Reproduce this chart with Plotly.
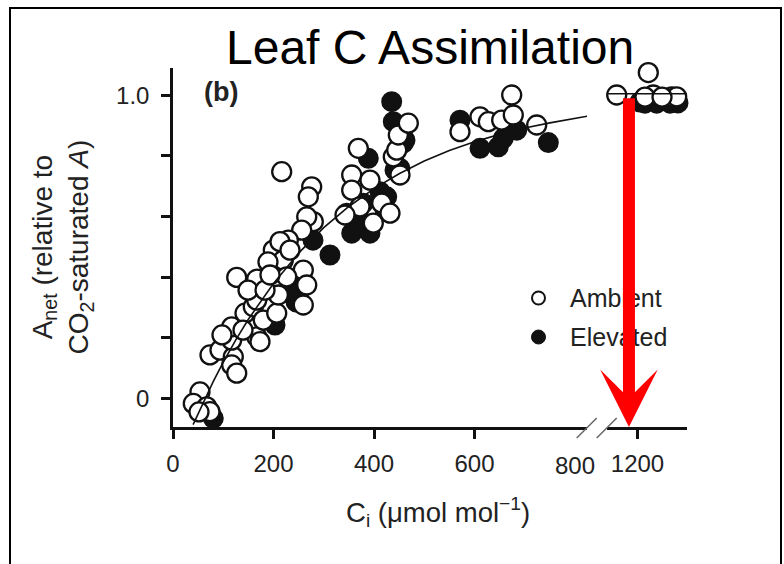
import plotly.graph_objects as go

# ---------------- data ----------------
amb_x = [41.8, 53.7, 40.4, 67.1, 73.6, 51.7, 73.6, 93.5, 120, 116.8, 126.8, 116.8, 116.8, 143.3,
         159.8, 166.6, 166.6, 173.1, 126.8, 166.6, 179.7, 206.4, 209.6, 199.6, 219.5, 259.3,
         266.1, 259.3, 226.3, 216.3, 276, 269.3, 279.2, 266.1, 256.1, 229.5, 212.9, 189,
         368.8, 355.6, 355.6, 372.1, 398.6, 415.3, 431.8, 438.4, 445.2, 448.4, 468.3, 451.7,
         571.1, 610.9, 627.5, 654.1, 674, 677.2, 723.8, 342.3, 392, 149.3, 183.1, 193, 232.8,
         139.3, 97.5,
         1158.6, 1221.5, 1231.4, 1214.9, 1268.1, 1278, 1248.8]
amb_y = [-0.019, 0.021, -0.017, -0.028, -0.044, -0.045, 0.143, 0.159, 0.137, 0.110, 0.083, 0.192,
         0.236, 0.281, 0.302, 0.324, 0.203, 0.187, 0.399, 0.393, 0.258, 0.281, 0.341, 0.489,
         0.456, 0.423, 0.374, 0.308, 0.401, 0.748, 0.698, 0.665, 0.583, 0.599, 0.555, 0.522,
         0.517, 0.45, 0.825, 0.737, 0.687, 0.632, 0.578, 0.644, 0.611, 0.797, 0.819, 0.869,
         0.908, 0.737, 0.880, 0.929, 0.913, 0.918, 1.001, 0.935, 0.902, 0.605, 0.720, 0.357,
         0.357, 0.407, 0.489, 0.225, 0.209,
         1.001, 1.075, 1.001, 0.994, 0.995, 0.995, 0.994]

elev_x = [80.2, 312.4, 239.4, 232.8, 203, 435.2, 438.4, 388.7, 345.7, 355.6, 392, 378.7, 411.9,
          425.3, 441.8, 458.3, 571.1, 610.9, 647.4, 657.3, 684, 746.9, 461.7, 451.7, 278.6,
          252.7, 244.8, 372.1, 421.9,
          1214.9, 1238.2, 1264.7, 1280.6, 1205]
elev_y = [-0.066, 0.473, 0.368, 0.347, 0.242, 0.979, 0.913, 0.792, 0.611, 0.545, 0.545, 0.644,
          0.682, 0.665, 0.753, 0.842, 0.918, 0.825, 0.830, 0.858, 0.885, 0.844, 0.852, 0.759,
          0.522, 0.357, 0.318, 0.589, 0.622,
          0.974, 0.974, 0.974, 0.975, 0.978]

fit_x = [40, 60, 80, 100, 125, 150, 175, 200, 250, 300, 350, 400, 450, 500, 550, 600, 650,
         700, 750, 800, 824]
fit_y = [-0.087, -0.013, 0.055, 0.119, 0.193, 0.261, 0.322, 0.379, 0.479, 0.563, 0.633, 0.692,
         0.741, 0.783, 0.818, 0.847, 0.871, 0.892, 0.909, 0.924, 0.931]
sat_x = [1139, 1299]
sat_y = [1.005, 1.005]

left_ticks = [0, 200, 400, 600]
left_labels = ["0", "200", "400", "600"]
right_ticks = [1200]
right_labels = ["1200"]
y_ticks = [0, 0.2, 0.4, 0.6, 0.8, 1.0]
y_labels = ["0", "", "", "", "", "1.0"]

BREAK = 1000
FONT = "Arial, Liberation Sans, Helvetica, sans-serif"

# ---------------- geometry helpers (pixel layout of the plot box) ----------------
W, H = 784, 564
L, R, T, B = 173, 687, 68, 427
Y0_PX, PX_PER_UNIT = 398.3, 303.0
def px(x):  # pixel x -> paper
    return (x - L) / (R - L)
def py(y):  # pixel y -> paper
    return (B - y) / (B - T)

fig = go.Figure()

def split(xs, ys):
    lx = [a for a in xs if a < BREAK]
    ly = [b for a, b in zip(xs, ys) if a < BREAK]
    rx = [a for a in xs if a >= BREAK]
    ry = [b for a, b in zip(xs, ys) if a >= BREAK]
    return lx, ly, rx, ry

el_lx, el_ly, el_rx, el_ry = split(elev_x, elev_y)
am_lx, am_ly, am_rx, am_ry = split(amb_x, amb_y)

filled = dict(size=19, color="#111111", line=dict(color="#111111", width=2))
opened = dict(size=19, color="white", line=dict(color="#111111", width=2.3))

fig.add_trace(go.Scatter(x=el_lx, y=el_ly, mode="markers", marker=filled, xaxis="x", yaxis="y",
                         name="Elevated", cliponaxis=False))
fig.add_trace(go.Scatter(x=el_rx, y=el_ry, mode="markers", marker=filled, xaxis="x2", yaxis="y",
                         name="Elevated", cliponaxis=False))
fig.add_trace(go.Scatter(x=am_lx, y=am_ly, mode="markers", marker=opened, xaxis="x", yaxis="y",
                         name="Ambient", cliponaxis=False))
fig.add_trace(go.Scatter(x=am_rx, y=am_ry, mode="markers", marker=opened, xaxis="x2", yaxis="y",
                         name="Ambient", cliponaxis=False))
fig.add_trace(go.Scatter(x=fit_x, y=fit_y, mode="lines", line=dict(color="#111111", width=1.6),
                         xaxis="x", yaxis="y", cliponaxis=False))
fig.add_trace(go.Scatter(x=sat_x, y=sat_y, mode="lines", line=dict(color="#111111", width=1.6),
                         xaxis="x2", yaxis="y", cliponaxis=False))

left_end, right_start = 587, 607
axis_common = dict(showline=True, linecolor="#111111", linewidth=2.5, ticks="outside",
                   ticklen=9, tickwidth=2.5, tickcolor="#111111", showgrid=False,
                   zeroline=False, tickfont=dict(family=FONT, size=24, color="#222222"))

y_bottom = -(B - Y0_PX) / PX_PER_UNIT
y_top = (Y0_PX - T) / PX_PER_UNIT

fig.update_layout(
    width=W, height=H, autosize=False,
    margin=dict(l=L, r=W - R, t=T, b=H - B, pad=0),
    plot_bgcolor="white", paper_bgcolor="white", showlegend=False,
    xaxis=dict(domain=[0, px(left_end)], range=[0, (left_end - L) / 0.5025],
               tickvals=left_ticks, ticktext=left_labels, anchor="y",
               ticklabelstandoff=4, **axis_common),
    xaxis2=dict(domain=[px(right_start), 1],
                range=[1200 + (right_start - 637.5) / 0.5025, 1200 + (R - 637.5) / 0.5025],
                tickvals=right_ticks, ticktext=right_labels, anchor="y",
                ticklabelstandoff=4, **axis_common),
    yaxis=dict(range=[y_bottom, y_top], tickvals=y_ticks,
               ticktext=y_labels, ticklabelstandoff=7, **axis_common),
)

ann = []
ann.append(dict(text="Leaf C Assimilation", xref="paper", yref="paper", x=0.5, y=py(47),
                xanchor="center", yanchor="middle", showarrow=False,
                font=dict(family=FONT, size=48, color="black")))
ann.append(dict(text="<b>(b)</b>", xref="paper", yref="paper", x=px(221), y=py(92),
                xanchor="center", yanchor="middle", showarrow=False,
                font=dict(family=FONT, size=27, color="#222222")))
ann.append(dict(text="800", xref="paper", yref="paper", x=px(575), y=py(465),
                xanchor="center", yanchor="middle", showarrow=False,
                font=dict(family=FONT, size=24, color="#222222")))
ann.append(dict(text="C<sub>i</sub> (μmol mol<sup>−1</sup>)", xref="paper", yref="paper",
                x=px(438), y=py(512), xanchor="center", yanchor="middle", showarrow=False,
                font=dict(family=FONT, size=27.5, color="#222222")))
ann.append(dict(text="A<sub>net</sub> (relative to<br>CO<sub>2</sub>-saturated <i>A</i>)",
                xref="paper", yref="paper", x=px(62), y=0.5, xanchor="center",
                yanchor="middle", textangle=-90, showarrow=False,
                font=dict(family=FONT, size=28, color="#222222")))
ann.append(dict(text="Ambient", xref="paper", yref="paper", x=px(568), y=py(298),
                xanchor="left", yanchor="middle", showarrow=False,
                font=dict(family=FONT, size=25, color="#222222")))
ann.append(dict(text="Elevated", xref="paper", yref="paper", x=px(568), y=py(337),
                xanchor="left", yanchor="middle", showarrow=False,
                font=dict(family=FONT, size=25, color="#222222")))
ann.append(dict(text="", xref="x2", yref="y", x=1183, y=y_bottom,
                axref="x2", ayref="y", ax=1183, ay=0.995, showarrow=True,
                arrowhead=3, arrowsize=0.8, arrowwidth=12, arrowcolor="#ff0000", standoff=0))
fig.update_layout(annotations=ann)

shapes = []
# legend symbols
shapes.append(dict(type="circle", xref="paper", yref="paper", xsizemode="pixel",
                   ysizemode="pixel", xanchor=px(538.5), yanchor=py(298),
                   x0=-6.5, x1=6.5, y0=-6.5, y1=6.5,
                   line=dict(color="#111111", width=2), fillcolor="white"))
shapes.append(dict(type="circle", xref="paper", yref="paper", xsizemode="pixel",
                   ysizemode="pixel", xanchor=px(538.5), yanchor=py(337),
                   x0=-7, x1=7, y0=-7, y1=7,
                   line=dict(color="#111111", width=1), fillcolor="#111111"))
# axis break marks
for cx in (586.7, 606.7):
    shapes.append(dict(type="line", xref="paper", yref="paper",
                       x0=px(cx - 10), y0=py(438), x1=px(cx + 10), y1=py(418),
                       line=dict(color="#666666", width=1.5)))
# outer frame
shapes.append(dict(type="rect", xref="paper", yref="paper", x0=px(10), x1=px(781),
                   y0=py(575), y1=py(8), line=dict(color="black", width=2),
                   fillcolor="rgba(0,0,0,0)", layer="above"))
fig.update_layout(shapes=shapes)

fig.write_html("out.html")
